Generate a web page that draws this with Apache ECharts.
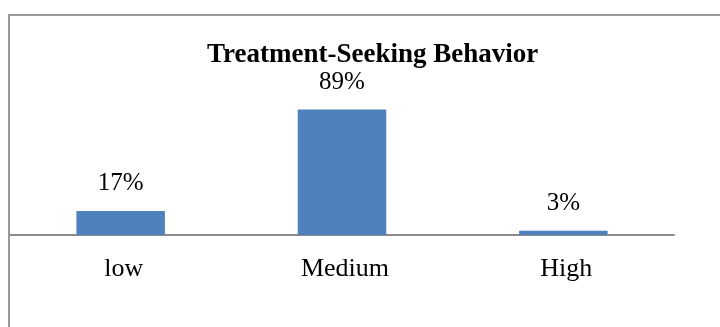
<!DOCTYPE html>
<html>
<head>
<meta charset="utf-8">
<script src="https://cdn.jsdelivr.net/npm/echarts@6/dist/echarts.min.js"></script>
<style>
html,body{margin:0;padding:0;background:#fff;}
#chart{width:720px;height:327px;}
</style>
</head>
<body>
<div id="chart"></div>
<script>
const chartTitle = 'Treatment-Seeking Behavior';
const categories = ['low', 'Medium', 'High'];
const values = [17, 89, 3];

const chart = echarts.init(document.getElementById('chart'), null, {renderer: 'canvas'});
chart.setOption({
  animation: false,
  backgroundColor: '#ffffff',
  title: {
    text: chartTitle,
    left: 202,
    top: 37,
    textStyle: {fontFamily: 'Liberation Serif', fontWeight: 'bold', fontSize: 27, color: '#000'}
  },
  graphic: [{
    type: 'polyline',
    shape: {points: [[9, 340], [9, 15], [730, 15]]},
    style: {stroke: '#9a9a9a', lineWidth: 2, fill: null}
  }],
  grid: {left: 10, right: 46, top: 94, bottom: 92},
  xAxis: {
    type: 'category',
    data: categories,
    axisLine: {lineStyle: {color: '#8a8a8a', width: 2}},
    axisTick: {show: false},
    axisLabel: {margin: 21, padding: [0, 0, 0, 6], fontFamily: 'Liberation Serif', fontSize: 26, color: '#000'}
  },
  yAxis: {
    type: 'value', min: 0, max: 100, show: false,
    splitLine: {show: false}
  },
  series: [{
    type: 'bar',
    data: values,
    barWidth: '40%',
    itemStyle: {color: '#4F81BD'},
    label: {
      show: true, position: 'top', distance: 15,
      formatter: '{c}%',
      fontFamily: 'Liberation Serif', fontSize: 25, color: '#000'
    }
  }]
});
</script>
</body>
</html>
